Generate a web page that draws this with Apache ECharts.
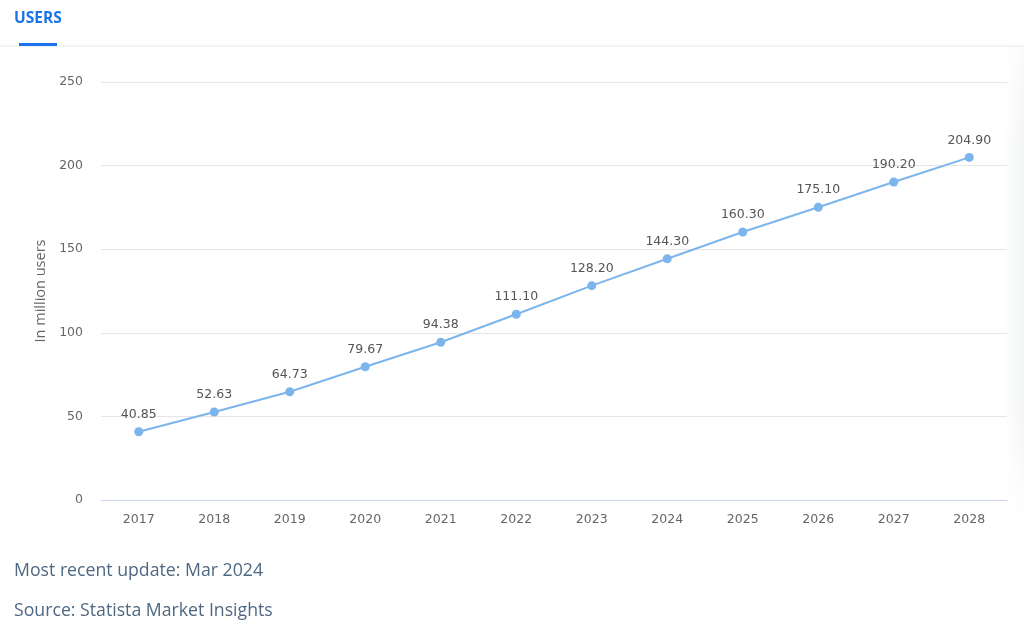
<!DOCTYPE html>
<html>
<head>
<meta charset="utf-8">
<script src="https://cdn.jsdelivr.net/npm/echarts@6/dist/echarts.min.js"></script>
<style>
html,body{margin:0;padding:0;background:#fff;}
#chart{width:1024px;height:636px;position:relative;}
#shade{position:absolute;right:0;top:46px;width:20px;height:480px;background:linear-gradient(to right,rgba(240,242,245,0),rgba(240,242,245,0.85));pointer-events:none;
  -webkit-mask-image:linear-gradient(to bottom,rgba(0,0,0,0.4),#000 20%,#000 75%,rgba(0,0,0,0));mask-image:linear-gradient(to bottom,rgba(0,0,0,0.4),#000 20%,#000 75%,rgba(0,0,0,0));}
</style>
</head>
<body>
<div id="chart"></div>
<div id="shade"></div>
<script>
const years = ['2017','2018','2019','2020','2021','2022','2023','2024','2025','2026','2027','2028'];
const users = [40.85, 52.63, 64.73, 79.67, 94.38, 111.10, 128.20, 144.30, 160.30, 175.10, 190.20, 204.90];
const yTicks = [0, 50, 100, 150, 200, 250];
const tabTitle = 'USERS';
const axisName = 'In million users';
const footer1 = 'Most recent update: Mar 2024';
const footer2 = 'Source: Statista Market Insights';

const font = '"Open Sans", "DejaVu Sans", sans-serif';
const tickFont = '"DejaVu Sans", sans-serif';
const chart = echarts.init(document.getElementById('chart'), null, {renderer: 'canvas'});
chart.setOption({
  animation: false,
  title: {
    text: tabTitle, left: 14, top: 11, padding: 0,
    textStyle: {color: '#1a73e8', fontSize: 15.5, fontWeight: 'bold', fontFamily: font}
  },
  graphic: [
    {type: 'rect', shape: {x: 0, y: 45, width: 1024, height: 2}, style: {fill: '#f2f4f7'}, z: 1},
    {type: 'rect', shape: {x: 19, y: 43, width: 38, height: 3}, style: {fill: '#1a73e8'}, z: 2},
    {type: 'text', left: 14, top: 562, style: {text: footer1, fill: '#4f6882', fontSize: 17.7, fontFamily: font}},
    {type: 'text', left: 14, top: 602, style: {text: footer2, fill: '#4f6882', fontSize: 17.7, fontFamily: font}}
  ],
  grid: {left: 101, right: 17, top: 82, bottom: 136, containLabel: false},
  xAxis: {
    type: 'category', data: years, boundaryGap: true,
    axisLine: {lineStyle: {color: '#ccd6eb', width: 1}},
    axisTick: {show: false},
    axisLabel: {color: '#666', fontSize: 12.5, fontFamily: tickFont, margin: 13}
  },
  yAxis: {
    type: 'value', min: yTicks[0], max: yTicks[yTicks.length - 1], interval: 50,
    name: axisName, nameLocation: 'middle', nameGap: 51, nameRotate: 90,
    nameTextStyle: {color: '#666', fontSize: 14.5, fontFamily: font},
    axisLine: {show: false}, axisTick: {show: false},
    axisLabel: {color: '#666', fontSize: 12.5, fontFamily: tickFont, margin: 18},
    splitLine: {lineStyle: {color: '#e6e6e6', width: 1}}
  },
  series: [{
    type: 'line', data: users,
    symbol: 'circle', symbolSize: 9,
    lineStyle: {color: '#7cb5ec', width: 2},
    itemStyle: {color: '#7cb5ec'},
    label: {
      show: true, position: 'top', distance: 6,
      formatter: p => p.value.toFixed(2),
      color: '#555', fontSize: 12.5, fontFamily: tickFont
    }
  }]
});
</script>
</body>
</html>
